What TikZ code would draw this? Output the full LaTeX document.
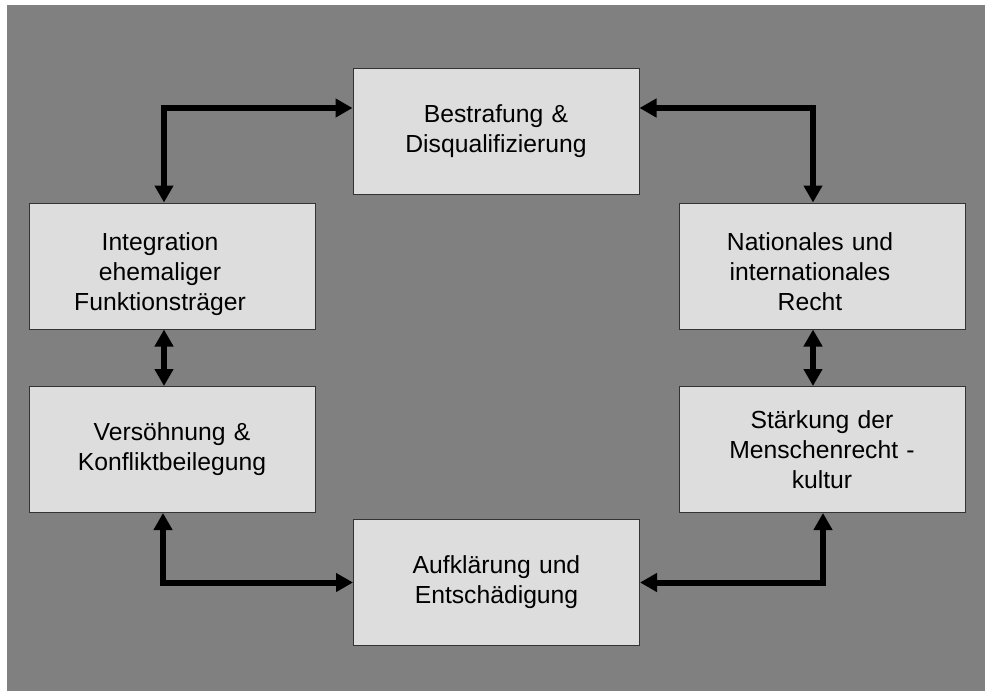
\documentclass[tikz,border=0pt]{standalone}
\usepackage{fontspec}
\setmainfont{Liberation Sans}
\usetikzlibrary{arrows.meta,positioning}
\definecolor{bggray}{HTML}{808080}
\definecolor{boxgray}{HTML}{DDDDDD}
% text set a bit left and lower in its box
\newcommand{\offtext}[1]{\begin{tabular}{@{}c@{\hspace{24pt}}}\rule{0pt}{37pt}#1\end{tabular}}

\begin{document}
\begin{tikzpicture}[
    x=1pt, y=-1pt,
    node distance=183.5pt,
    block/.style={rectangle, draw=black!80, line width=1pt, fill=boxgray, text width=262pt, align=center, minimum width=286pt, minimum height=126pt, inner sep=0pt, font=\fontsize{24.7}{30}\selectfont},
    arrow/.style={<->, >={Triangle[length=17pt,width=18pt]}, line width=6pt}
]
    % Background
    \useasboundingbox (0,0) rectangle (985,691);
    \fill[bggray] (7,5) rectangle (985,691);

    % Nodes
    \node[block] (integ) at (172,266) {\offtext{Integration\\ehemaliger\\Funktionsträger}};
    \node[block, right of=integ, xshift=466.5pt] (recht) {\offtext{Nationales und\\internationales\\Recht}};
    \node[block, right of=integ, xshift=140.5pt, yshift=134.5pt] (strafe) {Bestrafung \&\\Disqualifizierung};
    \node[block, below of=integ] (versoehn) {Versöhnung \&\\Konfliktbeilegung};
    \node[block, below of=recht] (staerk) {Stärkung der\\Menschenrecht -\\kultur};
    \node[block, right of=versoehn, xshift=141pt, yshift=-133pt] (aufkl) {Aufklärung und\\Entschädigung};

    % Arrows
    \draw[arrow] ([xshift=-8pt]integ.north) |- ([yshift=23.5pt]strafe.west);
    \draw[arrow] ([yshift=23.5pt]strafe.east) -| ([xshift=-9pt]recht.north);
    \draw[arrow] ([xshift=-8pt]integ.south) -- ([xshift=-8pt]versoehn.north);
    \draw[arrow] ([xshift=-9pt]recht.south) -- ([xshift=-9pt]staerk.north);
    \draw[arrow] ([xshift=-9pt]versoehn.south) |- (aufkl.west);
    \draw[arrow] (aufkl.east) -| ([xshift=1pt]staerk.south);
\end{tikzpicture}
\end{document}
